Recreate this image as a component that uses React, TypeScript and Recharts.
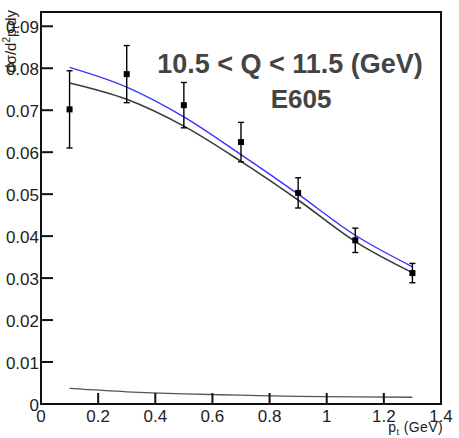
import React from "react";
import {
  ComposedChart,
  Line,
  Scatter,
  ErrorBar,
  XAxis,
  YAxis,
} from "recharts";

// Measured data points (E605, 10.5 < Q < 11.5 GeV)
const PT = [0.1, 0.3, 0.5, 0.7, 0.9, 1.1, 1.3];
const XSEC = [0.0702, 0.0786, 0.0712, 0.0624, 0.0503, 0.039, 0.0312];
const XSEC_ERR = [0.0092, 0.0068, 0.0054, 0.0047, 0.0036, 0.0029, 0.0023];

// Theory curves
const CURVE_PT = [0.1, 0.3, 0.5, 0.7, 0.9, 1.1, 1.3];
const BLUE_CURVE = [0.0802, 0.0755, 0.0684, 0.0594, 0.05, 0.0402, 0.0327];
const BLACK_CURVE = [0.0765, 0.0726, 0.0662, 0.0578, 0.0486, 0.0387, 0.0313];
const LOW_CURVE = [0.0037, 0.0029, 0.0024, 0.0021, 0.0018, 0.0017, 0.0016];

// Axis ticks
const X_MAJOR = [0, 0.2, 0.4, 0.6, 0.8, 1, 1.2, 1.4];
const X_LABELS = ["0", "0.2", "0.4", "0.6", "0.8", "1", "1.2", "1.4"];
const Y_MAJOR = [0, 0.01, 0.02, 0.03, 0.04, 0.05, 0.06, 0.07, 0.08, 0.09];
const Y_LABELS = ["0", "0.01", "0.02", "0.03", "0.04", "0.05", "0.06", "0.07", "0.08", "0.09"];
const X_MINOR_STEP = 0.05;
const Y_MINOR_STEP = 0.002;
const X_DOMAIN: [number, number] = [0, 1.4];
const Y_DOMAIN: [number, number] = [0, 0.0934];

const X_MINOR: number[] = [];
for (let i = 0; i <= Math.round(X_DOMAIN[1] / X_MINOR_STEP); i++) {
  const v = +(i * X_MINOR_STEP).toFixed(4);
  if (!X_MAJOR.some((m) => Math.abs(m - v) < 1e-7)) X_MINOR.push(v);
}
const Y_MINOR: number[] = [];
for (let i = 0; i * Y_MINOR_STEP <= Y_DOMAIN[1] + 1e-9; i++) {
  const v = +(i * Y_MINOR_STEP).toFixed(4);
  if (!Y_MAJOR.some((m) => Math.abs(m - v) < 1e-7)) Y_MINOR.push(v);
}

const points = PT.map((x, i) => ({ x, y: XSEC[i], err: XSEC_ERR[i] }));
const curves = CURVE_PT.map((x, i) => ({ x, blue: BLUE_CURVE[i], black: BLACK_CURVE[i], low: LOW_CURVE[i] }));

const W = 459;
const H = 438;
const PLOT_W = 400;
const PLOT_H = 392;
const FONT = "'Liberation Sans', Arial, sans-serif";
const TICK_LINE = { stroke: "#111", strokeWidth: 2 };
const X_MAJ_LEN = 11;
const Y_MAJ_LEN = 12;

const findIdx = (arr: number[], v: number) => arr.findIndex((a) => Math.abs(a - v) < 1e-7);

const YLabel = (props: any) => {
  const x = Number(props.x) - Y_MAJ_LEN;
  const y = Number(props.y);
  const idx = findIdx(Y_MAJOR, props.payload.value);
  if (idx < 0) return <g />;
  return (
    <text x={x - 2} y={y} dy={7} textAnchor="end" fontSize={17} fontFamily={FONT} fill="#222" stroke="none">
      {Y_LABELS[idx]}
    </text>
  );
};

const XLabel = (props: any) => {
  const x = Number(props.x);
  const y = Number(props.y) + X_MAJ_LEN;
  const idx = findIdx(X_MAJOR, props.payload.value);
  return (
    <g>
      {props.index === 0 && (
        <rect x={x} y={y - PLOT_H} width={PLOT_W} height={PLOT_H} fill="none" stroke="#111" strokeWidth={2} />
      )}
      {idx >= 0 && (
        <text x={x} y={y} dy={17.5} textAnchor="middle" fontSize={17} fontFamily={FONT} fill="#222" stroke="none">
          {X_LABELS[idx]}
        </text>
      )}
    </g>
  );
};

const Square = (props: any) => {
  const { cx, cy } = props;
  return <rect x={cx - 3} y={cy - 3} width={6} height={6} fill="#000" />;
};

const common = {
  type: "number" as const,
  allowDataOverflow: true,
  interval: 0 as const,
  tickMargin: 0,
};

export default function App() {
  return (
    <div style={{ position: "absolute", left: 0, top: 0, width: W, height: H, background: "#fff" }}>
      <ComposedChart
        width={W}
        height={H}
        margin={{ top: 10, right: 16, bottom: 32, left: 39 }}
      >
        <XAxis
          {...common}
          dataKey="x"
          domain={X_DOMAIN}
          ticks={X_MAJOR}
          axisLine={false}
          tickLine={TICK_LINE}
          tickSize={-X_MAJ_LEN}
          height={1}
          tick={<XLabel />}
        />
        <XAxis {...common} xAxisId="bmin" domain={X_DOMAIN} ticks={X_MINOR} axisLine={false} tickLine={TICK_LINE} tickSize={-6} height={1} tick={false} />
        <XAxis {...common} xAxisId="tmaj" orientation="top" domain={X_DOMAIN} ticks={X_MAJOR} axisLine={false} tickLine={TICK_LINE} tickSize={-15} height={1} tick={false} />
        <XAxis {...common} xAxisId="tmin" orientation="top" domain={X_DOMAIN} ticks={X_MINOR} axisLine={false} tickLine={TICK_LINE} tickSize={-7} height={1} tick={false} />
        <YAxis
          {...common}
          dataKey="y"
          domain={Y_DOMAIN}
          ticks={Y_MAJOR}
          axisLine={false}
          tickLine={TICK_LINE}
          tickSize={-Y_MAJ_LEN}
          width={1}
          tick={<YLabel />}
        />
        <YAxis {...common} yAxisId="lmin" domain={Y_DOMAIN} ticks={Y_MINOR} axisLine={false} tickLine={TICK_LINE} tickSize={-7} width={1} tick={false} />
        <YAxis {...common} yAxisId="rmaj" orientation="right" domain={Y_DOMAIN} ticks={Y_MAJOR} axisLine={false} tickLine={TICK_LINE} tickSize={-12} width={1} tick={false} />
        <YAxis {...common} yAxisId="rmin" orientation="right" domain={Y_DOMAIN} ticks={Y_MINOR} axisLine={false} tickLine={TICK_LINE} tickSize={-5} width={1} tick={false} />
        <Line data={curves} dataKey="low" type="monotone" stroke="#555" strokeWidth={1.3} dot={false} isAnimationActive={false} />
        <Line data={curves} dataKey="black" type="monotone" stroke="#3a3a3a" strokeWidth={1.6} dot={false} isAnimationActive={false} />
        <Line data={curves} dataKey="blue" type="monotone" stroke="#3535ff" strokeWidth={1.4} dot={false} isAnimationActive={false} />
        <Scatter data={points} dataKey="y" shape={<Square />} isAnimationActive={false}>
          <ErrorBar dataKey="err" direction="y" width={3} stroke="#000" strokeWidth={1.4} />
        </Scatter>
      </ComposedChart>
      <svg
        width={W}
        height={H}
        style={{ position: "absolute", left: 0, top: 0, pointerEvents: "none" }}
      >
        <text x={290} y={73} textAnchor="middle" fontSize={27} fontWeight="bold" fontFamily={FONT} fill="#444">
          10.5 &lt; Q &lt; 11.5 (GeV)
        </text>
        <text x={301} y={108} textAnchor="middle" fontSize={26} fontWeight="bold" fontFamily={FONT} fill="#444">
          E605
        </text>
        <text x={443} y={432} textAnchor="end" fontSize={14} fontFamily={FONT} fill="#222" letterSpacing={0.4}>
          p<tspan fontSize={9} dy={3}>t</tspan>
          <tspan dy={-3}> (GeV)</tspan>
        </text>
        <text
          x={16}
          y={10}
          textAnchor="end"
          fontSize={15}
          fontFamily={FONT}
          fill="#222"
          transform="rotate(-90 16 10)"
        >
          dσ/d<tspan fontSize={10} dy={-6}>2</tspan>
          <tspan dy={6}>p</tspan>
          <tspan fontSize={10} dy={3}>t</tspan>
          <tspan dy={-3}>dy</tspan>
        </text>
      </svg>
    </div>
  );
}
